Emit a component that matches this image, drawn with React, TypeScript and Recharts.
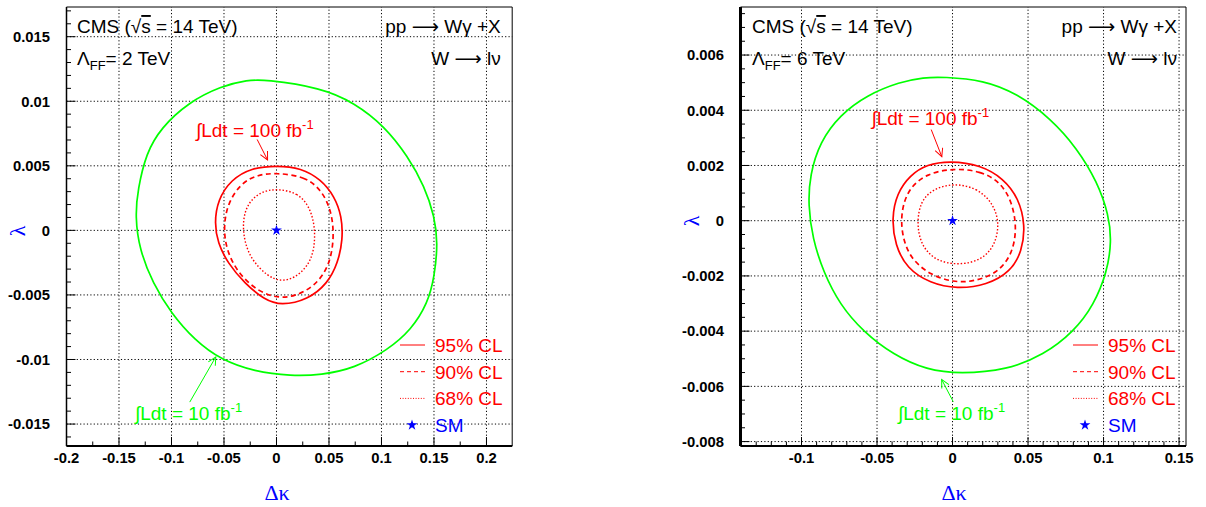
import React from 'react';
import {
  ComposedChart,
  Line,
  Scatter,
  XAxis,
  YAxis,
  ReferenceLine,
  ReferenceArea,
  Legend,
  Symbols,
} from 'recharts';

const FONT = "'Liberation Sans', Arial, Helvetica, sans-serif";
const SERIF = "'Liberation Serif', 'DejaVu Serif', 'Times New Roman', serif";
const ARROWFONT = "'DejaVu Sans', 'Noto Sans', sans-serif";
const RED = '#ff0000';
const GREEN = '#00ff00';
const BLUE = '#0000ff';

// ---------------- Left panel (Lambda_FF = 2 TeV) ----------------
const leftGreen10: [number, number][] = [
  [-0.0114, 0.01169], [0.0425, 0.01105], [0.0743, 0.00988], [0.1029, 0.00807], [0.1251, 0.00574],
  [0.141, 0.00341], [0.1505, 0.00109], [0.1537, -0.00098], [0.1505, -0.00357], [0.1441, -0.00564],
  [0.1283, -0.00771], [0.106, -0.00926], [0.0743, -0.01068], [0.0425, -0.0112], [0.014, -0.01128],
  [-0.021, -0.01094], [-0.0527, -0.01004], [-0.0781, -0.00849], [-0.1003, -0.00642], [-0.1178, -0.00409],
  [-0.1305, -0.0015], [-0.1346, 0.00109], [-0.1321, 0.00316], [-0.1241, 0.006], [-0.1099, 0.00794],
  [-0.0845, 0.00988], [-0.0527, 0.01118], [-0.0273, 0.01164],
];
const leftRed95: [number, number][] = [
  [0.0, 0.00502], [0.0235, 0.00484], [0.0425, 0.00393], [0.0552, 0.00264], [0.0622, 0.00109],
  [0.0632, -0.00072], [0.0584, -0.00254], [0.0489, -0.00409], [0.0298, -0.00538], [0.0044, -0.00582],
  [-0.0114, -0.00538], [-0.0305, -0.00409], [-0.0464, -0.00254], [-0.0559, -0.00098], [-0.0591, 0.00057],
  [-0.0559, 0.00238], [-0.0432, 0.00393], [-0.0241, 0.00484],
];
const leftRed90: [number, number][] = [
  [0.0, 0.00445], [0.0267, 0.00419], [0.0425, 0.00316], [0.0521, 0.0016], [0.0552, -0.00047],
  [0.0505, -0.00279], [0.0362, -0.00435], [0.0171, -0.00512], [0.0013, -0.00525], [-0.0178, -0.00473],
  [-0.0368, -0.00331], [-0.0479, -0.0015], [-0.0505, 0.00031], [-0.0464, 0.00212], [-0.0337, 0.00367],
  [-0.0178, 0.00432],
];
const leftRed68: [number, number][] = [
  [0.0013, 0.00323], [0.0203, 0.0029], [0.0314, 0.00186], [0.0368, 0.00031], [0.0362, -0.0015],
  [0.0298, -0.00279], [0.0171, -0.0037], [0.0044, -0.00396], [-0.0083, -0.00357], [-0.0241, -0.00228],
  [-0.0311, -0.00072], [-0.0321, 0.00083], [-0.0273, 0.00212], [-0.0146, 0.00303],
];
const leftRedArrow: [number, number][] = [[-0.0184, 0.00704], [-0.0085, 0.00545]];
const leftGreenArrow: [number, number][] = [[-0.0826, -0.0133], [-0.0578, -0.0098]];

const leftXMajor = [-0.2, -0.15, -0.1, -0.05, 0, 0.05, 0.1, 0.15, 0.2];
const leftXLabels = ['-0.2', '-0.15', '-0.1', '-0.05', '0', '0.05', '0.1', '0.15', '0.2'];
const leftXMinor = [-0.175, -0.125, -0.075, -0.025, 0.025, 0.075, 0.125, 0.175];
const leftYMajor = [-0.015, -0.01, -0.005, 0, 0.005, 0.01, 0.015];
const leftYLabels = ['-0.015', '-0.01', '-0.005', '0', '0.005', '0.01', '0.015'];
const leftYMinor = [
  -0.016, -0.014, -0.013, -0.012, -0.011, -0.009, -0.008, -0.007, -0.006, -0.004, -0.003, -0.002,
  -0.001, 0.001, 0.002, 0.003, 0.004, 0.006, 0.007, 0.008, 0.009, 0.011, 0.012, 0.013, 0.014,
  0.016, 0.017,
];

// ---------------- Right panel (Lambda_FF = 6 TeV) ----------------
const rightGreen10: [number, number][] = [
  [-0.006, 0.00521], [0.0206, 0.00509], [0.0427, 0.00461], [0.0648, 0.00371], [0.0825, 0.00262],
  [0.0958, 0.00141], [0.1035, 0.00021], [0.1053, -0.00076], [0.1024, -0.00185], [0.0936, -0.00305],
  [0.0803, -0.00402], [0.0604, -0.00486], [0.0361, -0.00541], [0.0051, -0.00555], [-0.017, -0.00541],
  [-0.0392, -0.00486], [-0.0591, -0.00402], [-0.0745, -0.00305], [-0.0856, -0.00185], [-0.0927, -0.00064],
  [-0.0956, 0.00057], [-0.0945, 0.00165], [-0.0878, 0.00286], [-0.0745, 0.00383], [-0.0568, 0.00455],
  [-0.0347, 0.00503], [-0.0192, 0.00519],
];
const rightRed95: [number, number][] = [
  [-0.0015, 0.00217], [0.0184, 0.00202], [0.0338, 0.00153], [0.0438, 0.00081], [0.0482, -0.00016],
  [0.046, -0.00112], [0.0383, -0.00185], [0.0228, -0.00233], [0.0029, -0.00247], [-0.0148, -0.00227],
  [-0.0303, -0.00173], [-0.038, -0.00088], [-0.0403, 0.00008], [-0.0369, 0.00099], [-0.0281, 0.00165],
  [-0.017, 0.00204],
];
const rightRed90: [number, number][] = [
  [0.0007, 0.0019], [0.0184, 0.0018], [0.0316, 0.00141], [0.0394, 0.00069], [0.0427, -0.00028],
  [0.0394, -0.00124], [0.0294, -0.00191], [0.0139, -0.00221], [0.0007, -0.00223], [-0.0148, -0.00197],
  [-0.0281, -0.00136], [-0.0336, -0.00052], [-0.0341, 0.00033], [-0.0292, 0.00117], [-0.017, 0.00171],
];
const rightRed68: [number, number][] = [
  [0.0018, 0.00136], [0.0161, 0.00117], [0.0261, 0.00069], [0.0312, -0.00004], [0.0283, -0.00088],
  [0.0195, -0.00142], [0.0051, -0.00161], [-0.0104, -0.00148], [-0.0204, -0.00094], [-0.0237, -0.00016],
  [-0.0215, 0.00069], [-0.0126, 0.00117],
];
const rightRedArrow: [number, number][] = [[-0.0141, 0.0033], [-0.0071, 0.00232]];
const rightGreenArrow: [number, number][] = [[0.0005, -0.00656], [-0.0072, -0.00575]];

const rightXMajor = [-0.1, -0.05, 0, 0.05, 0.1, 0.15];
const rightXLabels = ['-0.1', '-0.05', '0', '0.05', '0.1', '0.15'];
const rightXMinor = [
  -0.14, -0.13, -0.12, -0.11, -0.09, -0.08, -0.07, -0.06, -0.04, -0.03, -0.02, -0.01, 0.01, 0.02,
  0.03, 0.04, 0.06, 0.07, 0.08, 0.09, 0.11, 0.12, 0.13, 0.14,
];
const rightYMajor = [-0.008, -0.006, -0.004, -0.002, 0, 0.002, 0.004, 0.006];
const rightYLabels = ['-0.008', '-0.006', '-0.004', '-0.002', '0', '0.002', '0.004', '0.006'];
const rightYMinor = [
  -0.0075, -0.007, -0.0065, -0.0055, -0.005, -0.0045, -0.0035, -0.003, -0.0025, -0.0015, -0.001,
  -0.0005, 0.0005, 0.001, 0.0015, 0.0025, 0.003, 0.0035, 0.0045, 0.005, 0.0055, 0.0065, 0.007,
  0.0075,
];

const smPoint = [{ x: 0, y: 0 }];
const legendItems = [
  { label: '95% CL', kind: 'solid', color: RED },
  { label: '90% CL', kind: 'dashed', color: RED },
  { label: '68% CL', kind: 'dotted', color: RED },
  { label: 'SM', kind: 'star', color: BLUE },
];

const toPts = (a: [number, number][]) => a.map(([x, y]) => ({ x, y }));

const findIdx = (arr: number[], v: number) => arr.findIndex((m) => Math.abs(m - v) < 1e-9);

const makeXTick = (majors: number[], labels: string[]) => (props: any) => {
  const { x, y, payload } = props;
  const idx = findIdx(majors, payload.value);
  const major = idx >= 0;
  return (
    <g>
      <line x1={x} y1={y} x2={x} y2={y - (major ? 9 : 4.5)} stroke="#000" strokeWidth={1} />
      {major && (
        <text x={x} y={y + 17} textAnchor="middle" fontSize={14.8} fontWeight="bold" fontFamily={FONT} fill="#000">
          {labels[idx]}
        </text>
      )}
    </g>
  );
};

const makeYTick = (majors: number[], labels: string[]) => (props: any) => {
  const { x, y, payload } = props;
  const idx = findIdx(majors, payload.value);
  const major = idx >= 0;
  return (
    <g>
      <line x1={x} y1={y} x2={x + (major ? 9 : 4.5)} y2={y} stroke="#000" strokeWidth={1} />
      {major && (
        <text x={x - 16.5} y={y} dy="0.36em" textAnchor="end" fontSize={14.8} fontWeight="bold" fontFamily={FONT} fill="#000">
          {labels[idx]}
        </text>
      )}
    </g>
  );
};

const starShape = (p: any) => <Symbols type="star" size={36} cx={p.cx} cy={p.cy} fill={BLUE} stroke="none" />;

const LegendBox = () => (
  <svg width={130} height={110} style={{ display: 'block', overflow: 'visible' }}>
    {legendItems.map((it, i) => {
      const y = 15 + i * 26.7;
      let sample: React.ReactNode = null;
      if (it.kind === 'star') {
        sample = <Symbols type="star" size={36} cx={17} cy={y} fill={BLUE} />;
      } else {
        sample = (
          <line
            x1={5}
            x2={30}
            y1={y}
            y2={y}
            stroke={it.color}
            strokeWidth={1}
            strokeDasharray={it.kind === 'dashed' ? '4 3' : it.kind === 'dotted' ? '1 1.6' : undefined}
          />
        );
      }
      return (
        <g key={it.label}>
          {sample}
          <text x={40} y={y} dy="0.36em" fontSize={19} fontFamily={FONT} fill={it.color}>
            {it.label}
          </text>
        </g>
      );
    })}
  </svg>
);

type PanelCfg = {
  left: number;
  width: number;
  yAxisWidth: number;
  marginRight: number;
  xDomain: [number, number];
  yDomain: [number, number];
  xMajor: number[];
  xMinor: number[];
  xLabels: string[];
  yMajor: number[];
  yMinor: number[];
  yLabels: string[];
  green: [number, number][];
  red95: [number, number][];
  red90: [number, number][];
  red68: [number, number][];
  redArrow: [number, number][];
  greenArrow: [number, number][];
  leftAxisStroke: number;
  bottomAxisStroke: number;
  legendLeft: number;
};

const Panel = ({ cfg }: { cfg: PanelCfg }) => {
  const xticks = [...cfg.xMajor, ...cfg.xMinor].sort((a, b) => a - b);
  const yticks = [...cfg.yMajor, ...cfg.yMinor].sort((a, b) => a - b);
  const curves = [
    { key: 'g', data: toPts(cfg.green), stroke: GREEN, w: 1.7, dash: undefined },
    { key: 'r95', data: toPts(cfg.red95), stroke: RED, w: 1.7, dash: undefined },
    { key: 'r90', data: toPts(cfg.red90), stroke: RED, w: 1.7, dash: '5 3.5' },
    { key: 'r68', data: toPts(cfg.red68), stroke: RED, w: 1.4, dash: '1.5 1.9' },
  ];
  return (
    <div style={{ position: 'absolute', left: cfg.left, top: 0 }}>
      <ComposedChart width={cfg.width} height={507} margin={{ top: 7, right: cfg.marginRight, bottom: 0, left: 0 }}>
        <XAxis
          type="number"
          dataKey="x"
          domain={cfg.xDomain}
          allowDataOverflow
          ticks={xticks}
          interval={0}
          tickSize={0}
          tickMargin={0}
          tickLine={false}
          height={61}
          axisLine={{ stroke: '#000', strokeWidth: cfg.bottomAxisStroke }}
          tick={makeXTick(cfg.xMajor, cfg.xLabels)}
        />
        <YAxis
          type="number"
          dataKey="y"
          domain={cfg.yDomain}
          allowDataOverflow
          ticks={yticks}
          interval={0}
          tickSize={0}
          tickMargin={0}
          tickLine={false}
          width={cfg.yAxisWidth}
          axisLine={{ stroke: '#000', strokeWidth: cfg.leftAxisStroke }}
          tick={makeYTick(cfg.yMajor, cfg.yLabels)}
        />
        <ReferenceArea
          x1={cfg.xDomain[0]}
          x2={cfg.xDomain[1]}
          y1={cfg.yDomain[0]}
          y2={cfg.yDomain[1]}
          fill="none"
          fillOpacity={0}
          stroke="#000"
          strokeWidth={1}
          ifOverflow="visible"
        />
        {cfg.xMajor.map((v) => (
          <ReferenceLine key={'gx' + v} x={v} stroke="#000" strokeWidth={1} strokeDasharray="1.2 2.2" />
        ))}
        {cfg.yMajor.map((v) => (
          <ReferenceLine key={'gy' + v} y={v} stroke="#000" strokeWidth={1} strokeDasharray="1.2 2.2" />
        ))}
        {curves.map((c) => (
          <Line
            key={c.key}
            data={c.data}
            dataKey="y"
            type="basisClosed"
            stroke={c.stroke}
            strokeWidth={c.w}
            strokeDasharray={c.dash}
            dot={false}
            activeDot={false}
            isAnimationActive={false}
          />
        ))}
        <Line
          data={toPts(cfg.redArrow)}
          dataKey="y"
          type="linear"
          stroke={RED}
          strokeWidth={1}
          dot={false}
          activeDot={false}
          isAnimationActive={false}
          markerEnd="url(#ahRed)"
        />
        <Line
          data={toPts(cfg.greenArrow)}
          dataKey="y"
          type="linear"
          stroke={GREEN}
          strokeWidth={1}
          dot={false}
          activeDot={false}
          isAnimationActive={false}
          markerEnd="url(#ahGreen)"
        />
        <Scatter data={smPoint} shape={starShape} isAnimationActive={false} />
        <Legend
          layout="horizontal"
          verticalAlign="middle"
          align="center"
          content={() => <LegendBox />}
          wrapperStyle={{ left: cfg.legendLeft, top: 330, width: 130, height: 110 }}
        />
      </ComposedChart>
    </div>
  );
};

const leftCfg: PanelCfg = {
  left: 0,
  width: 520,
  yAxisWidth: 66.5,
  marginRight: 7.8,
  xDomain: [-0.2, 0.2245],
  yDomain: [-0.0167, 0.0173],
  xMajor: leftXMajor,
  xMinor: leftXMinor,
  xLabels: leftXLabels,
  yMajor: leftYMajor,
  yMinor: leftYMinor,
  yLabels: leftYLabels,
  green: leftGreen10,
  red95: leftRed95,
  red90: leftRed90,
  red68: leftRed68,
  redArrow: leftRedArrow,
  greenArrow: leftGreenArrow,
  leftAxisStroke: 1.5,
  bottomAxisStroke: 2,
  legendLeft: 395,
};

const rightCfg: PanelCfg = {
  left: 660,
  width: 546,
  yAxisWidth: 80.5,
  marginRight: 20,
  xDomain: [-0.1404, 0.1546],
  yDomain: [-0.00816, 0.00774],
  xMajor: rightXMajor,
  xMinor: rightXMinor,
  xLabels: rightXLabels,
  yMajor: rightYMajor,
  yMinor: rightYMinor,
  yLabels: rightYLabels,
  green: rightGreen10,
  red95: rightRed95,
  red90: rightRed90,
  red68: rightRed68,
  redArrow: rightRedArrow,
  greenArrow: rightGreenArrow,
  leftAxisStroke: 3,
  bottomAxisStroke: 2,
  legendLeft: 408,
};

const Header = ({ left, right, lambdaText }: { left: number; right: number; lambdaText: string }) => (
  <g fontFamily={FONT} fontSize={19} fill="#000">
    <text x={left} y={33}>
      CMS (√<tspan textDecoration="overline">s</tspan> = 14 TeV)
    </text>
    <text x={left} y={65}>
      Λ<tspan dy={5} fontSize={13}>FF</tspan>
      <tspan dy={-5}>{lambdaText}</tspan>
    </text>
    <text x={right} y={33} textAnchor="end">
      pp <tspan fontFamily={ARROWFONT}>⟶</tspan> Wγ +X
    </text>
    <text x={right} y={65} textAnchor="end">
      W <tspan fontFamily={ARROWFONT}>⟶</tspan> lν
    </text>
  </g>
);

const Lumi = ({ x, y, color, value }: { x: number; y: number; color: string; value: string }) => (
  <text x={x} y={y} fontFamily={FONT} fontSize={19} fill={color}>
    ∫Ldt = {value} fb<tspan dy={-8} fontSize={13}>-1</tspan>
  </text>
);

export default function App() {
  return (
    <div style={{ position: 'absolute', left: 0, top: 0, width: 1206, height: 507, background: '#fff', overflow: 'hidden' }}>
      <Panel cfg={leftCfg} />
      <Panel cfg={rightCfg} />
      <svg width={1206} height={507} style={{ position: 'absolute', left: 0, top: 0, pointerEvents: 'none' }}>
        <defs>
          <marker id="ahRed" markerUnits="userSpaceOnUse" markerWidth={12} markerHeight={12} refX={9} refY={5} orient="auto">
            <path d="M1,1 L9,5 L1,9" fill="none" stroke={RED} strokeWidth={1} />
          </marker>
          <marker id="ahGreen" markerUnits="userSpaceOnUse" markerWidth={12} markerHeight={12} refX={9} refY={5} orient="auto">
            <path d="M1,1 L9,5 L1,9" fill="none" stroke={GREEN} strokeWidth={1} />
          </marker>
        </defs>
        <Header left={77} right={500.7} lambdaText="= 2 TeV" />
        <Header left={752} right={1177} lambdaText="= 6 TeV" />
        <Lumi x={196} y={137} color={RED} value="100" />
        <Lumi x={135} y={420} color={GREEN} value="10" />
        <Lumi x={871.5} y={125} color={RED} value="100" />
        <Lumi x={898} y={420} color={GREEN} value="10" />
        <text x={17} y={231} fontFamily={SERIF} fontSize={22} fill={BLUE} textAnchor="middle" dominantBaseline="central" transform="rotate(-90 17 231)">
          λ
        </text>
        <text x={691} y={221} fontFamily={SERIF} fontSize={22} fill={BLUE} textAnchor="middle" dominantBaseline="central" transform="rotate(-90 691 221)">
          λ
        </text>
        <text x={277} y={492} fontFamily={SERIF} fontSize={22} fill={BLUE} textAnchor="middle" dominantBaseline="central">
          Δκ
        </text>
        <text x={954} y={492} fontFamily={SERIF} fontSize={22} fill={BLUE} textAnchor="middle" dominantBaseline="central">
          Δκ
        </text>
      </svg>
    </div>
  );
}
